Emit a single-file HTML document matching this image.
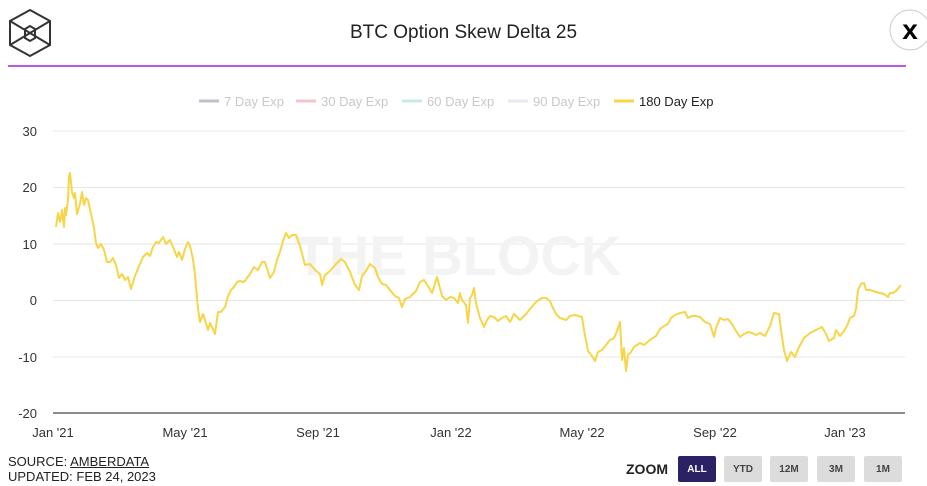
<!DOCTYPE html>
<html><head><style>
body{margin:0;width:927px;height:486px;background:#fff;font-family:"Liberation Sans",sans-serif;position:relative;overflow:hidden}
.t{position:absolute;white-space:nowrap}
.btn{position:absolute;top:456px;width:38px;height:26px;background:#dcdcdc;color:#444;font-size:10px;font-weight:bold;text-align:center;line-height:27px;border-radius:2px}
</style></head><body>
<svg width="927" height="486" style="position:absolute;left:0;top:0">
<g fill="none" stroke="#333" stroke-width="2">
<polygon points="30,10 50,21 50,45 30,56 10,45 10,21"/>
<polyline points="10,21 30,33 50,21"/>
<polyline points="10,45 30,33 50,45"/>
<polygon points="25,29 30,26 35,29 35,38 30,41 25,38"/>
</g>
<line x1="8" y1="66" x2="906" y2="66" stroke="#a020e0" stroke-width="1.5"/>
<circle cx="910" cy="30" r="20" fill="#fff" stroke="#ccc"/>
<text x="910" y="39" font-size="28" font-weight="bold" text-anchor="middle" fill="#000" font-family="Liberation Sans">x</text>
<g stroke="#e6e6e6" stroke-width="1">
<line x1="53" y1="131" x2="905" y2="131"/><line x1="53" y1="187.5" x2="905" y2="187.5"/>
<line x1="53" y1="244" x2="905" y2="244"/><line x1="53" y1="300.5" x2="905" y2="300.5"/>
<line x1="53" y1="357" x2="905" y2="357"/>
</g>
<line x1="53" y1="413" x2="905" y2="413" stroke="#666" stroke-width="1.5"/>
<text x="458" y="275" font-size="56" font-weight="bold" fill="#f3f3f3" text-anchor="middle" font-family="Liberation Sans">THE BLOCK</text>
<g font-size="13" fill="#333" text-anchor="end" font-family="Liberation Sans">
<text x="37" y="136">30</text><text x="37" y="192">20</text><text x="37" y="249">10</text><text x="37" y="305">0</text><text x="37" y="362">-10</text><text x="37" y="418">-20</text>
</g>
<g font-size="13" fill="#333" text-anchor="middle" font-family="Liberation Sans">
<text x="53" y="437">Jan '21</text><text x="185" y="437">May '21</text><text x="318" y="437">Sep '21</text><text x="451" y="437">Jan '22</text><text x="582" y="437">May '22</text><text x="715" y="437">Sep '22</text><text x="845" y="437">Jan '23</text>
</g>
<polyline fill="none" stroke="#f7d547" stroke-width="2" stroke-linejoin="round" points="56,227 58,213 60,222 62,210 64,227 65,208 66,215 68,200 69,176 70,173 72,192 74,198 75,193 77,214 80,204 82,192 84,205 86,198 88,200 91,214 94,228 96,243 98,248 101,244 104,250 107,262 110,262 113,258 116,265 119,278 122,274 125,280 128,277 131,289 135,276 139,266 143,257 147,253 150,256 153,247 156,242 159,243 163,237 166,244 170,240 173,247 177,257 179,252 182,260 185,249 188,242 190,246 193,259 195,275 198,309 200,322 203,314 205,320 208,330 210,323 213,329 215,334 218,312 221,312 225,307 228,296 231,290 234,287 237,282 240,281 244,282 250,274 254,267 258,270 262,262 265,262 270,278 274,272 277,260 280,252 283,241 286,233 289,238 292,235 296,235 300,246 305,265 310,264 315,270 320,274 322,285 325,275 330,271 336,264 341,259 345,262 350,272 355,285 359,290 362,276 366,271 370,264 375,268 378,277 382,284 386,285 390,290 395,296 399,298 402,307 405,299 410,297 416,291 420,282 424,280 428,286 432,293 437,277 442,296 446,300 450,297 454,298 458,303 460,293 462,300 466,305 468,323 470,298 472,295 474,288 476,303 480,318 484,327 487,320 490,316 494,317 498,321 502,318 506,316 510,322 514,314 520,320 526,314 530,309 536,302 542,298 546,298 550,301 552,306 556,314 560,318 566,320 570,316 575,315 582,317 584,330 588,351 592,356 595,361 598,352 602,350 606,345 610,340 614,338 617,331 620,322 622,360 624,348 626,371 628,355 631,352 634,347 640,343 644,345 650,340 656,336 660,329 664,326 668,324 671,318 675,315 680,313 685,312 688,318 692,316 696,316 700,317 705,322 710,324 714,337 716,328 720,318 724,320 728,319 732,324 736,331 740,337 744,334 748,332 752,333 756,335 760,333 765,336 770,326 774,313 779,314 781,330 784,350 787,361 791,352 795,357 799,347 804,338 810,333 818,329 822,327 826,334 829,341 834,338 836,330 840,336 844,331 847,326 850,318 854,316 856,309 858,290 861,284 864,283 866,290 870,290 876,292 884,294 888,297 890,293 893,293 896,291 901,285"/>
<g stroke-width="3">
<line x1="199" y1="101" x2="219" y2="101" stroke="#c0c0cc"/>
<line x1="296" y1="101" x2="316" y2="101" stroke="#f4c5cc"/>
<line x1="402" y1="101" x2="422" y2="101" stroke="#c5ece4"/>
<line x1="508" y1="101" x2="528" y2="101" stroke="#e8e8f0"/>
<line x1="614" y1="101" x2="634" y2="101" stroke="#f7d547"/>
</g>
<g font-size="13" font-family="Liberation Sans" fill="#c8c8c8">
<text x="224" y="106">7 Day Exp</text><text x="321" y="106">30 Day Exp</text><text x="427" y="106">60 Day Exp</text><text x="533" y="106">90 Day Exp</text><text x="639" y="106" fill="#222">180 Day Exp</text>
</g>
</svg>
<div class="t" style="left:0;width:927px;top:22px;text-align:center;font-size:19px;color:#222">BTC Option Skew Delta 25</div>
<div class="t" style="left:8px;top:454px;font-size:13px;color:#222;line-height:15px">SOURCE: <u>AMBERDATA</u><br>UPDATED: FEB 24, 2023</div>
<div class="t" style="left:626px;top:461px;font-size:14px;font-weight:bold;color:#222">ZOOM</div>
<div class="btn" style="left:678px;background:#2b2266;color:#fff">ALL</div>
<div class="btn" style="left:724px">YTD</div>
<div class="btn" style="left:770px">12M</div>
<div class="btn" style="left:817px">3M</div>
<div class="btn" style="left:864px">1M</div>
</body></html>
